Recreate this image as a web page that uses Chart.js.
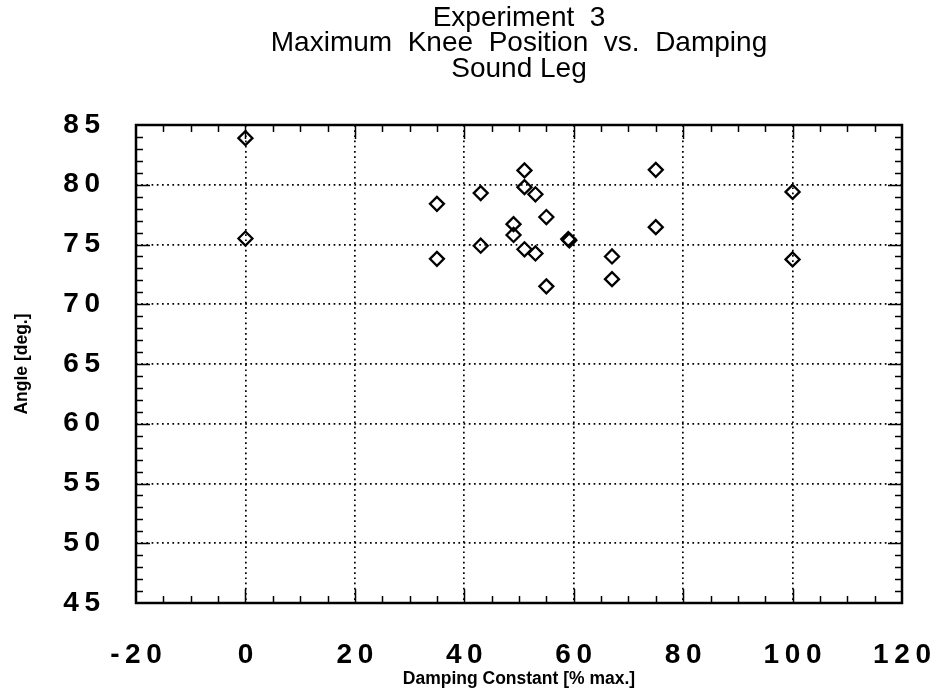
<!DOCTYPE html>
<html>
<head>
<meta charset="utf-8">
<script src="https://cdn.jsdelivr.net/npm/chart.js"></script>
<style>
  html, body { margin: 0; padding: 0; background: #fff; }
</style>
</head>
<body>
<canvas id="chart" width="937" height="694"></canvas>
<script>
// title lines (drawn centred over the plot area)
const titleLines = ['Experiment  3', 'Maximum  Knee  Position  vs.  Damping', 'Sound Leg'];

// damping constant [% max.] and max knee angle [deg.]
const dampingPct = [0, 0, 35, 35, 43, 43, 49, 49, 51, 51, 51, 53, 53, 55, 55, 59, 59.2, 67, 67, 75, 75, 100, 100];
const kneeAngle = [83.9, 75.5, 78.4, 73.8, 79.3, 74.9, 76.7, 75.8, 81.2, 79.8, 74.6, 79.2, 74.25, 77.3, 71.5, 75.45, 75.35, 74.0, 72.1, 81.25, 76.45, 79.4, 73.75];

const xRange = [-20, 120];
const yRange = [45, 85];

const FONT = '"Liberation Sans", Arial, Helvetica, sans-serif';

// spread the digits a bit like the original typesetting
const spaced = v => String(v).split('').join('\u2009');

const framePlugin = {
  id: 'frame',
  afterDraw(chart) {
    const { ctx, chartArea: a, scales: { x, y } } = chart;
    ctx.save();
    ctx.strokeStyle = '#000';
    ctx.lineWidth = 1.5;
    ctx.beginPath();
    // inward ticks on top / bottom
    for (let v = xRange[0] + 5; v < xRange[1]; v += 5) {
      const px = Math.round(x.getPixelForValue(v)) + 0.5;
      const len = v % 20 === 0 ? 14 : 7;
      ctx.moveTo(px, a.bottom); ctx.lineTo(px, a.bottom - len);
      ctx.moveTo(px, a.top); ctx.lineTo(px, a.top + len);
    }
    // inward ticks on left / right
    for (let v = yRange[0] + 1; v < yRange[1]; v++) {
      const py = Math.round(y.getPixelForValue(v)) + 0.5;
      const len = v % 5 === 0 ? 14 : 7;
      ctx.moveTo(a.left, py); ctx.lineTo(a.left + len, py);
      ctx.moveTo(a.right, py); ctx.lineTo(a.right - len, py);
    }
    ctx.stroke();
    ctx.lineWidth = 2.5;
    ctx.strokeRect(a.left, a.top, a.width, a.height);

    // title
    ctx.fillStyle = '#000';
    ctx.font = '28px ' + FONT;
    ctx.textAlign = 'center';
    ctx.textBaseline = 'middle';
    const cx = (a.left + a.right) / 2;
    titleLines.forEach((t, i) => ctx.fillText(t, cx, 18 + i * 25.5));
    ctx.restore();
  }
};

// fixed axis boxes, no extra room for overhanging labels
const fixX = s => { s.height = 91; s.paddingLeft = 0; s.paddingRight = 0; };
const fixY = s => { s.width = 136; s.paddingTop = 0; s.paddingBottom = 0; };

new Chart(document.getElementById('chart'), {
  type: 'scatter',
  data: {
    datasets: [{
      label: 'Sound Leg',
      data: dampingPct.map((d, i) => ({ x: d, y: kneeAngle[i] })),
      pointStyle: 'rectRot',
      pointRadius: 7,
      pointHoverRadius: 7,
      borderColor: '#000',
      borderWidth: 2.3,
      backgroundColor: 'rgba(0,0,0,0)'
    }]
  },
  options: {
    responsive: false,
    animation: false,
    layout: { padding: { top: 125, right: 35, bottom: 0, left: 0 } },
    plugins: {
      legend: { display: false },
      title: { display: false },
      tooltip: { enabled: false }
    },
    scales: {
      x: {
        type: 'linear',
        min: xRange[0],
        max: xRange[1],
        afterFit: fixX,
        ticks: {
          stepSize: 20,
          padding: 35,
          color: '#000',
          font: { family: FONT, size: 28, weight: 'bold' },
          callback: spaced
        },
        grid: { color: '#000', lineWidth: 1.7, drawTicks: false },
        border: { display: false, dash: [1.7, 3.5] },
        title: {
          display: true,
          text: 'Damping Constant [% max.]',
          color: '#000',
          font: { family: FONT, size: 17.5, weight: 'bold' },
          padding: { top: 0, bottom: 4 }
        }
      },
      y: {
        type: 'linear',
        min: yRange[0],
        max: yRange[1],
        afterFit: fixY,
        ticks: {
          stepSize: 5,
          padding: 36,
          color: '#000',
          font: { family: FONT, size: 28, weight: 'bold' },
          callback: spaced
        },
        grid: { color: '#000', lineWidth: 1.7, drawTicks: false },
        border: { display: false, dash: [1.7, 3.5] },
        title: {
          display: true,
          text: 'Angle [deg.]',
          color: '#000',
          font: { family: FONT, size: 17.5, weight: 'bold' },
          padding: { top: 12, bottom: 0 }
        }
      }
    }
  },
  plugins: [framePlugin]
});
</script>
</body>
</html>
